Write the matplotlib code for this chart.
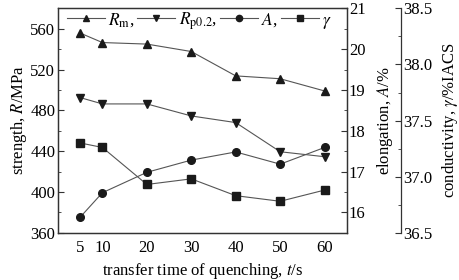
import matplotlib
matplotlib.use("Agg")
import matplotlib.pyplot as plt
from matplotlib.ticker import MultipleLocator, FormatStrFormatter
from matplotlib.lines import Line2D

plt.rcParams['font.family'] = ['Liberation Serif', 'DejaVu Serif']
plt.rcParams['mathtext.fontset'] = 'stix'

t = [5, 10, 20, 30, 40, 50, 60]
Rm = [555.8, 546.5, 545.0, 537.7, 513.8, 511.0, 499.0]
Rp = [492.5, 486.3, 486.3, 474.5, 468.0, 439.4, 434.5]
A = [15.88, 16.48, 16.98, 17.28, 17.48, 17.18, 17.59]
gamma = [37.30, 37.26, 36.93, 36.98, 36.83, 36.78, 36.88]
xticks = [5, 10, 20, 30, 40, 50, 60]

fs = 12
lc = '#555555'
mc = '#1a1a1a'
lw = 0.8
ms = 5.5

fig = plt.figure(figsize=(4.6, 2.8), dpi=100)
ax = fig.add_axes([0.126, 0.169, 0.628, 0.801])
ax2 = ax.twinx()
ax3 = ax.twinx()
ax3.spines['right'].set_position(('axes', 1.187))
for s in ['top', 'left', 'bottom']:
    ax3.spines[s].set_visible(False)

def plot(a, y, m):
    a.plot(t, y, color=lc, lw=lw, marker=m, ms=ms, mfc=mc, mec=mc, zorder=3)

plot(ax, Rm, '^')
plot(ax, Rp, 'v')
plot(ax2, A, 'o')
plot(ax3, gamma, 's')

ax.set_xlim(0, 65)
ax.set_ylim(360, 580)
ax2.set_ylim(15.5, 21)
ax3.set_ylim(36.5, 38.5)

ax.set_xticks(xticks)
ax.yaxis.set_major_locator(MultipleLocator(40))
ax.yaxis.set_minor_locator(MultipleLocator(20))
ax2.yaxis.set_major_locator(MultipleLocator(1))
ax2.yaxis.set_minor_locator(MultipleLocator(0.5))
ax3.yaxis.set_major_locator(MultipleLocator(0.5))
ax3.yaxis.set_minor_locator(MultipleLocator(0.25))
ax3.yaxis.set_major_formatter(FormatStrFormatter('%.1f'))

ax.tick_params(axis='x', length=0, labelsize=fs, pad=5)
ax.tick_params(axis='y', which='major', direction='in', length=4, labelsize=fs, pad=2)
ax.tick_params(axis='y', which='minor', direction='in', length=2.5)
for a in (ax2, ax3):
    a.tick_params(axis='y', which='major', direction='in', length=4, labelsize=fs, pad=1.5)
    a.tick_params(axis='y', which='minor', direction='in', length=2.5)

for a in (ax, ax2, ax3):
    for s in a.spines.values():
        s.set_linewidth(0.9)
        s.set_color('#333333')
    a.tick_params(which='both', color='#333333')

ax.set_xlabel(r'transfer time of quenching, $\mathit{t}$/s', fontsize=fs, labelpad=4)
ax.set_ylabel(r'strength, $\mathit{R}$/MPa', fontsize=fs, labelpad=1)
ax2.set_ylabel(r'elongation, $\mathit{A}$/%', fontsize=fs, labelpad=7)
ax3.set_ylabel(r'conductivity, $\mathit{\gamma}$/%IACS', fontsize=fs, labelpad=5.5)

lms = 4.5
handles = [
    Line2D([], [], color=lc, lw=lw, marker='^', ms=lms, mfc=mc, mec=mc),
    Line2D([], [], color=lc, lw=lw, marker='v', ms=lms, mfc=mc, mec=mc),
    Line2D([], [], color=lc, lw=lw, marker='o', ms=lms, mfc=mc, mec=mc),
    Line2D([], [], color=lc, lw=lw, marker='s', ms=lms, mfc=mc, mec=mc),
]
labels = [r'$R_\mathrm{m}$,', r'$R_\mathrm{p0.2}$,', r'$A$,', r'$\gamma$']
ax.legend(handles, labels, loc='upper left', bbox_to_anchor=(0.0, 1.03), ncol=4,
          frameon=False, fontsize=fs + 0.5, handlelength=2.2, handletextpad=0.2,
          columnspacing=0.15, borderaxespad=0.2, borderpad=0.3)

fig.savefig('out.png', dpi=100)
